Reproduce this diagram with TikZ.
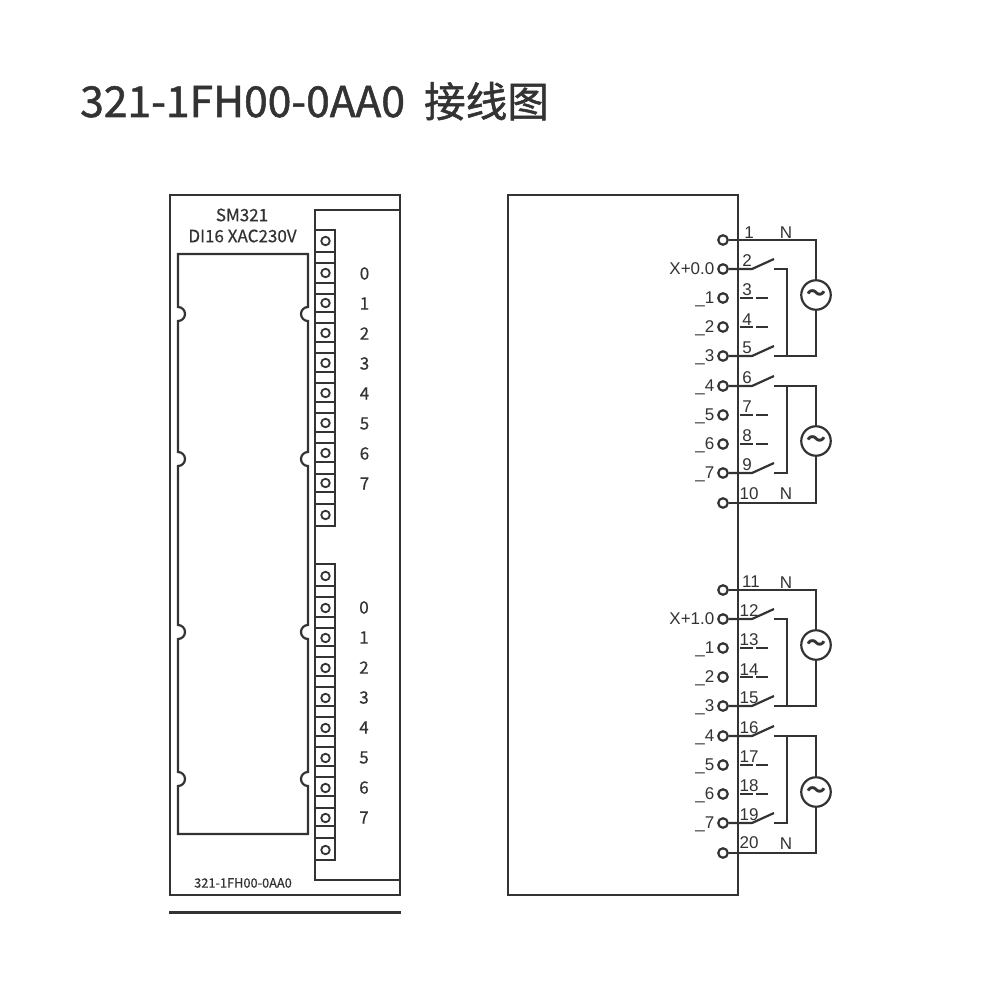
\documentclass[tikz,border=0pt]{standalone}
\usepackage{fontspec}
\setmainfont{Noto Sans CJK SC}
\newfontfamily\medfont[FakeBold=0.5]{Noto Sans CJK SC}
\newfontfamily\headfont[FakeBold=1.2]{Noto Sans CJK SC}
\newfontfamily\labelfont{Liberation Sans}
\usetikzlibrary{positioning}
\definecolor{linegray}{HTML}{333333}

\begin{document}
\begin{tikzpicture}[
    x=1pt, y=-1pt,
    wire/.style={draw=linegray, line width=2.2pt},
    title/.style={anchor=base west, inner sep=0pt, text=linegray, font=\headfont\fontsize{42.6}{43}\selectfont},
    caption/.style={inner sep=0pt, text=linegray, font=\medfont\fontsize{17}{17}\selectfont},
    digit/.style={inner sep=0pt, text=linegray, font=\medfont\fontsize{17}{17}\selectfont},
    hole/.style={circle, draw=linegray, line width=1.8pt, minimum size=8.5pt, inner sep=0pt},
    term/.style={circle, draw=linegray, fill=white, line width=2.2pt, minimum size=9.5pt, inner sep=0pt},
    pin/.style={inner sep=0pt, text=linegray, font=\labelfont\fontsize{17}{17}\selectfont},
    inlabel/.style={anchor=base east, inner sep=0pt, text=linegray, font=\labelfont\fontsize{17}{17}\selectfont},
    acsource/.style={circle, draw=linegray, fill=white, line width=2.2pt, minimum size=29.5pt, inner sep=0pt, text=linegray, font=\bfseries\fontsize{20}{20}\selectfont}
]

\useasboundingbox (0,0) rectangle (1000,1000);
\fill[white] (0,0) rectangle (1000,1000);

\node[title] (head) at (80,117) {321-1FH00-0AA0\hspace{0.45em}{\fontsize{41.6}{43}\selectfont 接线图}};

% left module
\draw[wire] (170,195) rectangle (400,895);
\draw[wire] (400,210) -- (315,210) -- (315,880) -- (400,880);
\draw[wire, line width=3pt] (169,912) -- (401,912);
\node[caption] (model) at (242,215) {SM321};
\node[caption] (type) at (242.5,236) {DI16 XAC230V};
\node[caption, font=\medfont\fontsize{12.8}{13}\selectfont] (order) at (243,883) {321-1FH00-0AA0};

% window with notches
\draw[wire] (178,254) -- (308,254)
    -- (308,307) arc (270:90:7) -- (308,452) arc (270:90:7)
    -- (308,625) arc (270:90:7) -- (308,772) arc (270:90:7)
    -- (308,834) -- (178,834)
    -- (178,786) arc (90:-90:7) -- (178,639) arc (90:-90:7)
    -- (178,466) arc (90:-90:7) -- (178,321) arc (90:-90:7) -- cycle;

% terminal strips
\foreach \off in {0,334} {
    \draw[wire, fill=white] (315,230+\off) rectangle (335,526+\off);
    \foreach \ya in {252,263,283,294,312,323,342,353,372,383,402,413,432,443,462,474,492,504}
        \draw[wire] (315,\ya+\off) -- (335,\ya+\off);
}
\foreach \n/\y in {a/241,b/273,c/303,d/333,e/363,f/393,g/423,h/453,i/483,j/515,
                   k/576,l/608,m/638,n/668,o/698,p/728,q/758,r/788,s/818,t/850}
    \node[hole] (hole\n) at (325.5,\y) {};

\foreach \n/\y in {0/273.5,1/303.5,2/333.5,3/363.5,4/393.5,5/423.5,6/453.5,7/483.5}
    \node[digit] (up\n) at (364.5,\y) {\n};
\foreach \n/\y in {0/607.5,1/637.5,2/667.5,3/697.5,4/727.5,5/757.5,6/787.5,7/817.5}
    \node[digit] (low\n) at (364,\y) {\n};

% right module
\draw[wire] (508,195) rectangle (738,895);

\foreach \n/\y in {1/240,2/269,3/298,4/327,5/356,6/386,7/415,8/444,9/473,10/503,
                   11/590,12/619,13/648,14/677,15/706,16/736,17/765,18/794,19/823,20/853}
    \node[term] (t\n) at (723,\y) {};

\foreach \n/\x/\y in {1/749/232.5,2/747/261,3/747/290,4/747/320,5/747/348,6/747/378,7/747/407,8/747/436,9/747/465,10/749/493.5,
                      11/751/582,12/749/611,13/749/640,14/749/670,15/749/698,16/749/728,17/749/757,18/749/786,19/749/815,20/749/843}
    \node[pin] (pin\n) at (\x,\y) {\n};

\node[pin] (n1) at (786,232.5) {N};
\node[pin] (n2) at (786,494) {N};
\node[pin] (n3) at (786,582.5) {N};
\node[pin] (n4) at (786,844) {N};

\foreach \n/\txt/\y in {2/X+0.0/269,3/\_1/298,4/\_2/327,5/\_3/356,6/\_4/386,7/\_5/415,8/\_6/444,9/\_7/473,
                        12/X+1.0/619,13/\_1/648,14/\_2/677,15/\_3/706,16/\_4/736,17/\_5/765,18/\_6/794,19/\_7/823}
    \node[inlabel] (lab\n) at (714.5,\y+5.5) {\txt};

% ac sources
\node[acsource] (ac1) at (816,295) {～};
\node[acsource] (ac2) at (816,441) {～};
\node[acsource] (ac3) at (816,645) {～};
\node[acsource] (ac4) at (816,792) {～};

% switches
\foreach \n in {2,5,6,9,12,15,16,19} {
    \coordinate (hinge\n) at ([xshift=29pt]t\n.center);
    \coordinate (blade\n) at ([xshift=51pt,yshift=10pt]t\n.center);
    \coordinate (fix\n) at ([xshift=51pt]t\n.center);
    \draw[wire] (t\n) -- (hinge\n) -- (blade\n);
}
% open contacts
\foreach \n in {3,4,7,8,13,14,17,18} {
    \coordinate (da\n) at ([xshift=17pt]t\n.center);
    \coordinate (db\n) at ([xshift=30pt]t\n.center);
    \coordinate (dc\n) at ([xshift=33pt]t\n.center);
    \coordinate (dd\n) at ([xshift=45pt]t\n.center);
    \draw[wire] (da\n) -- (db\n);
    \draw[wire] (dc\n) -- (dd\n);
}

% loops to the sources
\coordinate (rail1) at (787,356);
\coordinate (rail2) at (787,386);
\coordinate (rail3) at (787,706);
\coordinate (rail4) at (787,736);

\draw[wire] (t1) -| (ac1);
\draw[wire] (fix5) -| (ac1);
\draw[wire] (fix2) -| (rail1);
\draw[wire] (fix6) -| (ac2);
\draw[wire] (t10) -| (ac2);
\draw[wire] (fix9) -| (rail2);
\draw[wire] (t11) -| (ac3);
\draw[wire] (fix15) -| (ac3);
\draw[wire] (fix12) -| (rail3);
\draw[wire] (fix16) -| (ac4);
\draw[wire] (t20) -| (ac4);
\draw[wire] (fix19) -| (rail4);

\end{tikzpicture}
\end{document}
